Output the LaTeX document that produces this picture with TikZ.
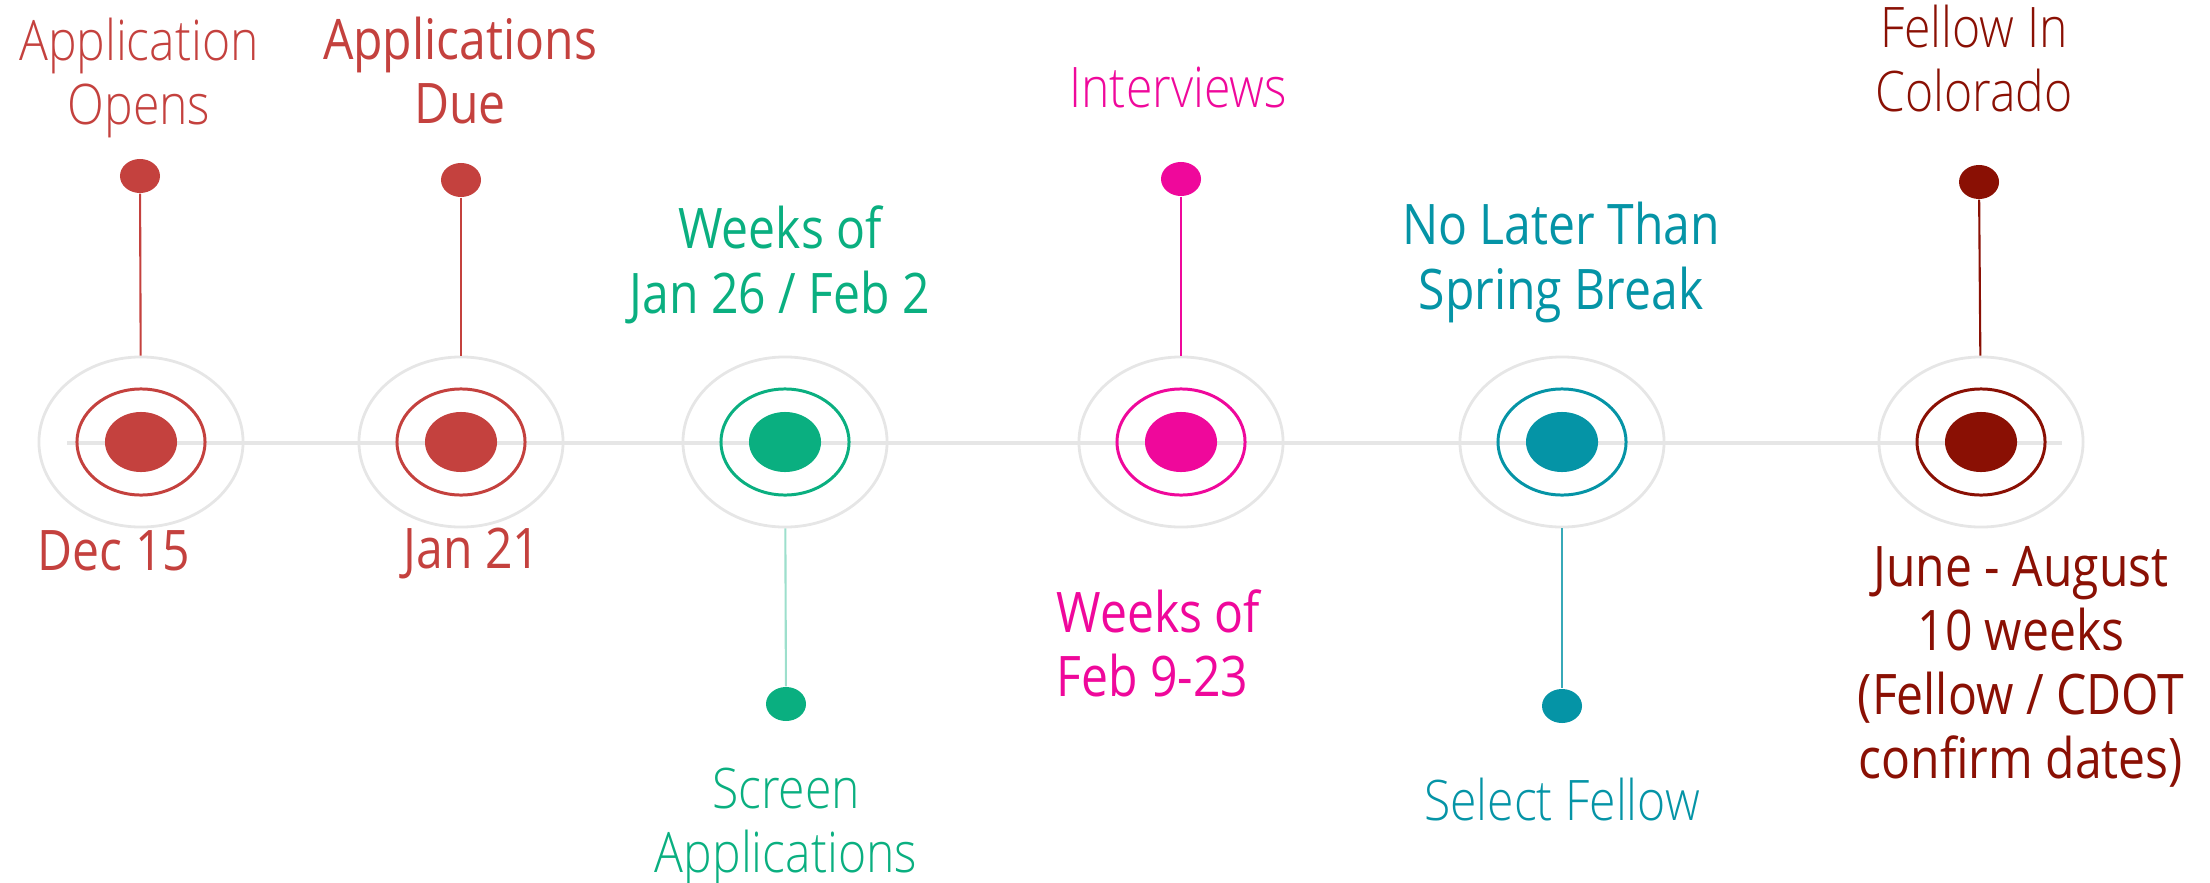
\documentclass[tikz,border=0pt]{standalone}
\usepackage{fontspec}
\setmainfont[FakeStretch=0.86]{Open Sans}
\IfFontExistsTF{Open Sans Light}
  {\newfontfamily\lightfont[FakeStretch=0.86]{Open Sans Light}}
  {\newfontfamily\lightfont[FakeStretch=0.86]{Open Sans}}
\usetikzlibrary{shapes.geometric}

\definecolor{appred}{HTML}{C4413E}
\definecolor{appgreen}{HTML}{0AAF80}
\definecolor{appmagenta}{HTML}{EF089B}
\definecolor{appteal}{HTML}{0594A6}
\definecolor{appmaroon}{HTML}{8A1004}
\definecolor{halogray}{HTML}{E6E6E6}

\tikzset{
  halo/.style={ellipse, draw=halogray, line width=0.8pt, minimum width=2.04cm, minimum height=1.70cm, inner sep=0pt},
  ring/.style={ellipse, draw=#1, line width=0.85pt, minimum width=1.28cm, minimum height=1.06cm, inner sep=0pt},
  core/.style={ellipse, fill=#1, minimum width=0.72cm, minimum height=0.60cm, inner sep=0pt},
  tack/.style={ellipse, fill=#1, minimum width=0.40cm, minimum height=0.34cm, inner sep=0pt},
  regtext/.style={text=#1, inner sep=0pt, align=center, anchor=base, font=\fontsize{15.9pt}{18.2pt}\selectfont},
  lighttext/.style={regtext=#1, font=\fontsize{15.9pt}{18.2pt}\selectfont\lightfont},
}

\begin{document}
\begin{tikzpicture}[x=0.01cm, y=-0.01cm]
  \useasboundingbox (0,0) rectangle (2210,882);

  \coordinate (axisL) at (67,443);
  \coordinate (axisR) at (2062,443);
  \draw [halogray, line width=1.1pt] (axisL) -- (axisR);

  % milestones on the axis
  \node[halo] (h1) at (141,442) {};
  \node[ring=appred] (r1) at (141,442) {};
  \node[core=appred] (c1) at (141,442) {};
  \node[halo] (h2) at (461,442) {};
  \node[ring=appred] (r2) at (461,442) {};
  \node[core=appred] (c2) at (461,442) {};
  \node[halo] (h3) at (785,442) {};
  \node[ring=appgreen] (r3) at (785,442) {};
  \node[core=appgreen] (c3) at (785,442) {};
  \node[halo] (h4) at (1181,442) {};
  \node[ring=appmagenta] (r4) at (1181,442) {};
  \node[core=appmagenta] (c4) at (1181,442) {};
  \node[halo] (h5) at (1562,442) {};
  \node[ring=appteal] (r5) at (1562,442) {};
  \node[core=appteal] (c5) at (1562,442) {};
  \node[halo] (h6) at (1981,442) {};
  \node[ring=appmaroon] (r6) at (1981,442) {};
  \node[core=appmaroon] (c6) at (1981,442) {};

  % pins
  \node[tack=appred] (p1) at (140,176) {};
  \node[tack=appred] (p2) at (461,180) {};
  \node[tack=appgreen] (p3) at (786,704) {};
  \node[tack=appmagenta] (p4) at (1181,179) {};
  \node[tack=appteal] (p5) at (1562,706) {};
  \node[tack=appmaroon] (p6) at (1979,182) {};

  \begin{scope}[line width=0.6pt]
    \draw [appred] (p1) -- (h1);
    \draw [appred] (p2) -- (h2);
    \draw [appgreen!40] (h3) -- (p3);
    \draw [appmagenta] (p4) -- (h4);
    \draw [appteal!80] (h5) -- (p5);
    \draw [appmaroon] (p6) -- (h6);
  \end{scope}

  % texts (base = last line)
  \node[lighttext=appred] (t1) at (139,125) {Application\\Opens};
  \node[regtext=appred] (d1) at (114,570) {Dec 15};
  \node[regtext=appred] (t2) at (460,124) {Applications\\Due};
  \node[regtext=appred] (d2) at (472,568) {Jan 21};
  \node[regtext=appgreen] (d3) at (780,313) {Weeks of\\Jan 26 / Feb 2};
  \node[lighttext=appgreen] (t3) at (786,872) {Screen\\Applications};
  \node[lighttext=appmagenta] (t4) at (1178,108) {Interviews};
  \node[regtext=appmagenta, align=left, anchor=base west] (d4) at (1056,696) {Weeks of\\Feb 9-23};
  \node[regtext=appteal] (d5) at (1561,309) {No Later Than\\Spring Break};
  \node[lighttext=appteal] (t5) at (1562,820) {Select Fellow};
  \node[lighttext=appmaroon] (t6) at (1974,112) {Fellow In\\Colorado};
  \node[regtext=appmaroon] (d6) at (2021,778) {June - August\\10 weeks\\(Fellow / CDOT\\confirm dates)};
\end{tikzpicture}
\end{document}
